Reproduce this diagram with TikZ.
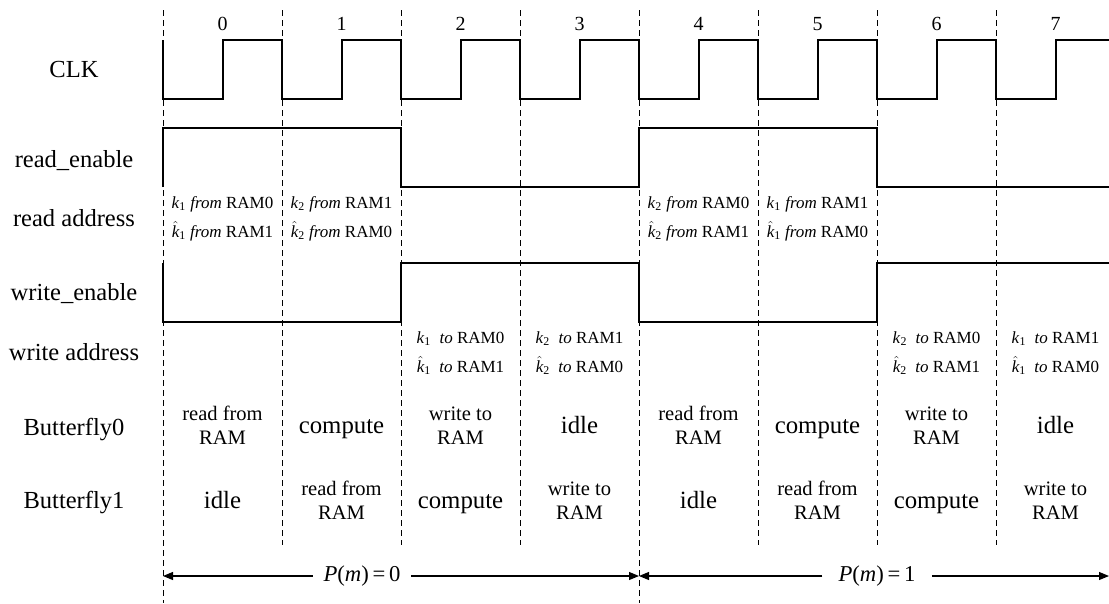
\documentclass[tikz,border=0pt]{standalone}
\usepackage{fontspec}
\setmainfont{Liberation Serif}
\usetikzlibrary{arrows.meta}

% address terms: k_i and \hat{k}_i
\newcommand\kvar[1]{\textit{k}\textsubscript{#1}}
\newcommand\khat[1]{$\hat{\mbox{\itshape k}}$\textsubscript{#1}}

\begin{document}
\begin{tikzpicture}[x=0.75pt,y=-0.75pt,
  signal/.style={line width=0.9pt, line join=miter},
  slotline/.style={line width=0.6pt, dash pattern=on 4.5pt off 3pt},
  rowlabel/.style={anchor=base, inner sep=0pt, font=\fontsize{18.4}{22}\selectfont},
  slotnum/.style={anchor=base, inner sep=0pt, font=\fontsize{15}{18}\selectfont},
  addr/.style={anchor=base, inner sep=0pt, font=\fontsize{12.75}{15}\selectfont},
  bigcell/.style={anchor=base, inner sep=0pt, font=\fontsize{18.6}{22}\selectfont},
  smallcell/.style={anchor=base, inner sep=0pt, font=\fontsize{15.4}{18}\selectfont},
  phase/.style={inner ysep=2pt, font=\fontsize{17}{20}\selectfont},
  span/.style={line width=0.8pt, -{Triangle[length=7.5pt,width=6pt]}}]

\useasboundingbox (0,0) rectangle (1109,603);

% clock slot boundaries
\foreach \i in {1,2,3,5,6,7}
  \draw[slotline] ({163+119*\i},10) -- ({163+119*\i},545);
\foreach \i in {0,4}
  \draw[slotline] ({163+119*\i},10) -- ({163+119*\i},603);

% slot numbers
\foreach \i in {0,...,7}
  \node[slotnum] (num\i) at ({222.5+119*\i},30) {\i};

% row labels
\node[rowlabel] (lclk) at (74,77) {CLK};
\node[rowlabel] (lre)  at (74,167) {read\_enable};
\node[rowlabel] (lra)  at (74,226) {read address};
\node[rowlabel] (lwe)  at (74,300) {write\_enable};
\node[rowlabel] (lwa)  at (74,360) {write address};
\node[rowlabel] (lb0)  at (74,435) {Butterfly0};
\node[rowlabel] (lb1)  at (74,508) {Butterfly1};

% CLK waveform
\draw[signal] (163,40)
  \foreach \i in {0,...,7} {
    -- ({163+119*\i},99) -- ({223+119*\i},99)
    -- ({223+119*\i},40) -- ({min(282+119*\i,1109)},40)
  };

% read_enable
\draw[signal] (163,187) -- (163,128) -- (401,128) -- (401,187)
  -- (639,187) -- (639,128) -- (877,128) -- (877,187) -- (1109,187);

% write_enable
\draw[signal] (163,263) -- (163,322) -- (401,322) -- (401,263)
  -- (639,263) -- (639,322) -- (877,322) -- (877,263) -- (1109,263);

% read addresses
\foreach \i/\a/\b in {
    0/{\kvar{1} \textit{from} RAM0}/{\khat{1} \textit{from} RAM1},
    1/{\kvar{2} \textit{from} RAM1}/{\khat{2} \textit{from} RAM0},
    4/{\kvar{2} \textit{from} RAM0}/{\khat{2} \textit{from} RAM1},
    5/{\kvar{1} \textit{from} RAM1}/{\khat{1} \textit{from} RAM0}} {
  \node[addr] (ra\i-1) at ({222.5+119*\i},208) {\a};
  \node[addr] (ra\i-2) at ({222.5+119*\i},237) {\b};
}

% write addresses
\foreach \i/\a/\b in {
    2/{\kvar{1}\ \ \textit{to} RAM0}/{\khat{1}\ \ \textit{to} RAM1},
    3/{\kvar{2}\ \ \textit{to} RAM1}/{\khat{2}\ \ \textit{to} RAM0},
    6/{\kvar{2}\ \ \textit{to} RAM0}/{\khat{2}\ \ \textit{to} RAM1},
    7/{\kvar{1}\ \ \textit{to} RAM1}/{\khat{1}\ \ \textit{to} RAM0}} {
  \node[addr] (wa\i-1) at ({222.5+119*\i},343) {\a};
  \node[addr] (wa\i-2) at ({222.5+119*\i},372) {\b};
}

% Butterfly0 activity
\foreach \i/\t in {1/compute, 3/idle, 5/compute, 7/idle}
  \node[bigcell] (bfa\i) at ({222.5+119*\i},433) {\t};
\foreach \i/\a in {0/read from, 2/write to, 4/read from, 6/write to} {
  \node[smallcell] (bfa\i-1) at ({222.5+119*\i},420) {\a};
  \node[smallcell] (bfa\i-2) at ({222.5+119*\i},444) {RAM};
}

% Butterfly1 activity
\foreach \i/\t in {0/idle, 2/compute, 4/idle, 6/compute}
  \node[bigcell] (bfb\i) at ({222.5+119*\i},508) {\t};
\foreach \i/\a in {1/read from, 3/write to, 5/read from, 7/write to} {
  \node[smallcell] (bfb\i-1) at ({222.5+119*\i},495) {\a};
  \node[smallcell] (bfb\i-2) at ({222.5+119*\i},519) {RAM};
}

% phase spans
\coordinate (s0) at (163,576);
\coordinate (s1) at (639,576);
\coordinate (s2) at (1109,576);
\node[phase, inner xsep=8pt] (pm0) at (362,576) {\textit{P}(\textit{m})\,=\,0};
\node[phase, inner xsep=12pt] (pm1) at (877,576) {\textit{P}(\textit{m})\,=\,1};
\draw[span] (pm0.west) -- (s0);
\draw[span] (pm0.east) -- (s1);
\draw[span] (pm1.west) -- (s1);
\draw[span] (pm1.east) -- (s2);
\end{tikzpicture}
\end{document}
